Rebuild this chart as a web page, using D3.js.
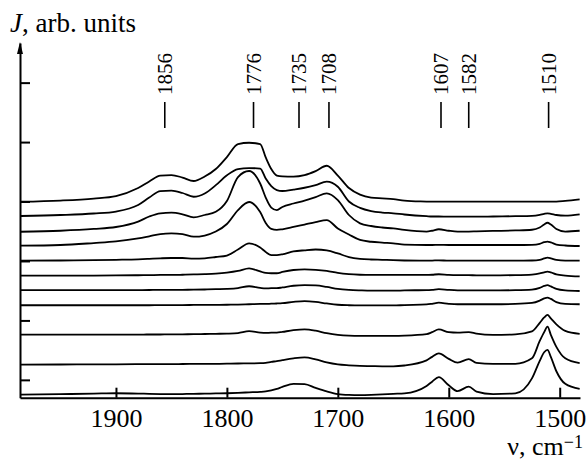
<!DOCTYPE html>
<html>
<head>
<meta charset="utf-8">
<script src="https://cdn.jsdelivr.net/npm/d3@7"></script>
<style>
  body { margin: 0; background: #fff; }
  text { font-family: "Liberation Serif", "Times New Roman", serif; fill: #000; }
</style>
</head>
<body>
<div id="chart"></div>
<script>
// wavenumbers (cm^-1) at which the spectra were read
const wavenumbers = [1986, 1950, 1920, 1900, 1880, 1870, 1860, 1850, 1840, 1830,
    1820, 1810, 1800, 1790, 1780, 1770, 1765, 1760, 1755,
    1750, 1740, 1730, 1720, 1710, 1700, 1690, 1680, 1670, 1660, 1650, 1640,
    1620, 1615, 1609, 1600, 1592, 1582, 1575, 1560, 1540, 1525, 1518, 1514, 1511, 1508, 1503, 1495, 1482];

// intensity, arb. units (spectra already shifted, top to bottom)
const spectrum1 = [179.8, 181.0, 183.0, 185.5, 193.6, 200.2, 206.2, 206.7, 204.2, 200.7,
    205.2, 212.8, 224.9, 238.0, 239.3, 238.0, 224.5, 212.8, 206.2,
    205.4, 205.2, 206.7, 210.7, 216.1, 206.2, 193.6, 187.0, 184.0, 183.2, 182.5, 181.0,
    180.0, 179.8, 179.8, 179.8, 179.8, 179.8, 179.8, 179.8, 179.8, 179.8, 179.8, 179.8, 180.0, 180.0, 180.0, 180.7, 182.2];
const spectrum2 = [165.4, 166.4, 167.9, 169.9, 176.5, 184.0, 190.6, 191.1, 188.6, 184.8,
    188.1, 196.5, 206.5, 212.8, 213.8, 213.3, 203.2, 195.6, 191.6,
    190.6, 192.1, 193.9, 196.6, 200.0, 194.9, 180.0, 173.6, 170.4, 168.9, 168.1, 166.9,
    165.2, 164.9, 164.9, 164.7, 164.7, 164.7, 164.7, 164.9, 165.2, 165.6, 166.6, 167.6, 168.1, 167.6, 166.4, 165.7, 167.1];
const spectrum3 = [149.5, 150.5, 152.3, 154.3, 159.8, 164.9, 168.1, 168.7, 167.1, 164.1,
    166.4, 169.6, 180.5, 204.7, 210.8, 198.2, 184.0, 173.9, 171.4,
    174.5, 178.0, 181.0, 184.5, 188.3, 181.5, 166.4, 158.0, 155.3, 153.8, 152.8, 151.3,
    149.7, 150.5, 152.0, 150.5, 149.7, 149.7, 149.9, 150.3, 150.8, 151.5, 153.8, 156.8, 158.6, 156.8, 152.3, 149.7, 150.5];
const spectrum4 = [135.4, 136.1, 138.1, 139.7, 142.7, 144.9, 147.2, 147.9, 147.2, 144.5,
    145.7, 149.7, 157.3, 171.4, 179.5, 169.4, 158.3, 152.3, 151.3,
    152.0, 154.3, 156.8, 159.3, 161.3, 152.8, 146.7, 141.2, 139.4, 138.5, 137.8, 136.6,
    136.1, 136.1, 136.3, 136.1, 136.1, 136.1, 136.1, 136.1, 136.1, 136.3, 137.3, 138.9, 139.5, 138.7, 136.6, 135.6, 135.1];
const spectrum5 = [120.3, 120.5, 120.8, 121.2, 121.7, 122.2, 122.7, 123.0, 123.0, 122.3,
    122.7, 124.0, 125.5, 131.6, 137.8, 133.6, 129.1, 126.0, 126.0,
    126.7, 129.6, 130.8, 131.6, 130.6, 127.6, 124.0, 122.2, 121.5, 121.2, 120.8, 120.5,
    120.3, 120.4, 120.7, 120.3, 120.3, 120.3, 120.3, 120.3, 120.3, 120.5, 121.2, 122.5, 123.3, 122.7, 121.0, 120.3, 120.3];
const spectrum6 = [105.2, 105.2, 105.3, 105.4, 105.6, 105.7, 105.9, 105.9, 106.1, 106.4,
    106.7, 107.2, 108.2, 109.9, 112.6, 109.4, 107.9, 107.6, 107.6,
    108.9, 110.9, 111.6, 111.1, 109.9, 107.9, 106.7, 106.1, 105.9, 105.9, 105.9, 105.9,
    105.9, 106.1, 106.6, 105.9, 105.7, 105.7, 105.5, 105.5, 105.7, 106.3, 107.4, 108.6, 109.2, 108.4, 106.4, 105.2, 104.4];
const spectrum7 = [90.5, 90.5, 90.5, 90.6, 90.6, 90.7, 90.8, 90.8, 90.9, 91.0,
    91.2, 91.5, 91.8, 92.6, 94.5, 92.8, 92.3, 92.5, 92.5,
    93.3, 95.0, 95.6, 95.3, 93.8, 91.8, 90.8, 90.3, 90.0, 90.0, 90.0, 90.3,
    90.6, 90.9, 91.5, 90.8, 90.4, 90.3, 90.3, 90.3, 90.5, 91.1, 92.8, 94.8, 95.6, 94.3, 91.8, 90.3, 89.7];
const spectrum8 = [75.3, 75.3, 75.3, 75.3, 75.3, 75.3, 75.4, 75.4, 75.5, 75.6,
    75.6, 75.7, 75.8, 76.0, 76.3, 76.6, 76.6, 76.9, 77.1,
    77.4, 78.7, 79.5, 78.7, 77.1, 75.8, 75.3, 75.1, 75.1, 75.1, 75.1, 75.5,
    76.1, 76.8, 77.9, 76.8, 76.3, 76.3, 76.3, 76.3, 76.6, 77.6, 80.0, 82.2, 83.0, 81.7, 78.5, 76.6, 76.3];
const spectrum9 = [45.7, 45.7, 45.7, 45.7, 45.7, 45.8, 45.8, 45.9, 46.0, 46.1,
    46.3, 46.5, 46.7, 47.2, 49.1, 47.7, 47.4, 47.6, 47.6,
    48.4, 50.1, 50.9, 49.6, 47.1, 45.4, 44.6, 44.4, 44.4, 44.4, 44.4, 44.6,
    46.1, 48.1, 50.9, 48.1, 47.6, 48.2, 46.7, 45.4, 45.9, 48.9, 57.5, 63.0, 65.5, 62.0, 56.0, 49.4, 46.4];
const spectrum10 = [15.4, 15.5, 15.6, 15.7, 15.8, 15.8, 15.9, 15.9, 16.0, 16.1,
    16.1, 16.2, 16.3, 16.5, 16.6, 16.8, 17.2, 18.2, 18.9,
    19.9, 21.7, 22.7, 20.7, 17.6, 15.6, 14.7, 14.1, 13.9, 13.7, 13.7, 14.5,
    19.7, 23.2, 26.7, 21.2, 17.4, 20.9, 17.1, 16.1, 16.1, 21.7, 39.3, 48.2, 53.7, 45.5, 33.3, 21.7, 16.8];
const spectrum11 = [-14.8, -14.4, -13.9, -13.5, -13.8, -14.1, -14.3, -14.4, -14.3, -14.1,
    -13.9, -13.7, -13.5, -13.1, -12.6, -12.1, -11.6, -10.6, -9.1,
    -7.1, -4.0, -4.3, -8.1, -11.6, -14.3, -15.1, -15.3, -15.1, -14.7, -14.1, -13.6,
    -6.1, -1.8, 2.7, -5.5, -11.4, -6.8, -11.8, -14.3, -13.6, 1.5, 19.2, 27.9, 30.3, 23.2, 8.7, -4.0, -9.1];

const spectra = [spectrum1, spectrum2, spectrum3, spectrum4, spectrum5, spectrum6,
    spectrum7, spectrum8, spectrum9, spectrum10, spectrum11];

const peakLabels = [1856, 1776, 1735, 1708, 1607, 1582, 1510];
const xTickValues = [1900, 1800, 1700, 1600, 1500];
const yTickValues = [0, 60, 120, 180, 240, 300];

const width = 587, height = 460;
const margin = {top: 43, right: 7, bottom: 62.3, left: 20};

const svg = d3.select("#chart")
    .append("svg")
    .attr("width", width)
    .attr("height", height);

const x = d3.scaleLinear()
    .domain([1986.5, 1481.7])
    .range([margin.left, width - margin.right]);

const y = d3.scaleLinear()
    .domain([-18, 340])
    .range([height - margin.bottom, margin.top]);

// x axis, ticks pointing up
const xAxis = svg.append("g")
    .attr("transform", "translate(0," + (height - margin.bottom) + ")")
    .call(d3.axisBottom(x).tickValues(xTickValues).tickSize(-10).tickSizeOuter(0).tickPadding(11).tickFormat(d3.format("d")));
xAxis.select(".domain").attr("stroke-width", 2);
xAxis.selectAll(".tick line").attr("stroke-width", 2);
xAxis.selectAll("text")
    .style("font-family", "'Liberation Serif', serif")
    .style("font-size", "26px");

// y axis, no labels, ticks pointing right
const yAxis = svg.append("g")
    .attr("transform", "translate(" + margin.left + ",0)")
    .call(d3.axisLeft(y).tickValues(yTickValues).tickSize(-10).tickSizeOuter(0).tickFormat(""));
yAxis.select(".domain").attr("stroke-width", 2);
yAxis.selectAll(".tick line").attr("stroke-width", 2);

// arrow head on the y axis
svg.append("path")
    .attr("d", "M" + margin.left + "," + (margin.top - 1) + "L" + (margin.left - 3) + "," + (margin.top + 11) +
        "L" + (margin.left + 3) + "," + (margin.top + 11) + "Z")
    .attr("fill", "#000");

const line = d3.line()
    .x((d, i) => x(wavenumbers[i]))
    .y(d => y(d))
    .curve(d3.curveMonotoneX);

svg.selectAll("path.spectrum")
    .data(spectra)
    .join("path")
    .attr("class", "spectrum")
    .attr("d", line)
    .attr("fill", "none")
    .attr("stroke", "#000")
    .attr("stroke-width", 1.8)
    .attr("stroke-linejoin", "round");

// peak markers
const peaks = svg.append("g");
peaks.selectAll("line")
    .data(peakLabels)
    .join("line")
    .attr("x1", d => x(d))
    .attr("x2", d => x(d))
    .attr("y1", 102)
    .attr("y2", 128)
    .attr("stroke", "#000")
    .attr("stroke-width", 1.6);

peaks.selectAll("text")
    .data(peakLabels)
    .join("text")
    .attr("transform", d => "translate(" + x(d) + ",95) rotate(-90)")
    .attr("dy", "0.35em")
    .style("font-size", "21px")
    .text(d => d);

// axis titles
const yTitle = svg.append("text")
    .attr("x", 10)
    .attr("y", 32)
    .style("font-size", "27px");
yTitle.append("tspan").style("font-style", "italic").text("J");
yTitle.append("tspan").text(", arb. units");

const xTitle = svg.append("text")
    .attr("x", 583)
    .attr("y", 455)
    .attr("text-anchor", "end")
    .style("font-size", "26px");
xTitle.append("tspan").text("ν, cm");
xTitle.append("tspan").attr("dy", -7).style("font-size", "18px").text("−1");
</script>
</body>
</html>
